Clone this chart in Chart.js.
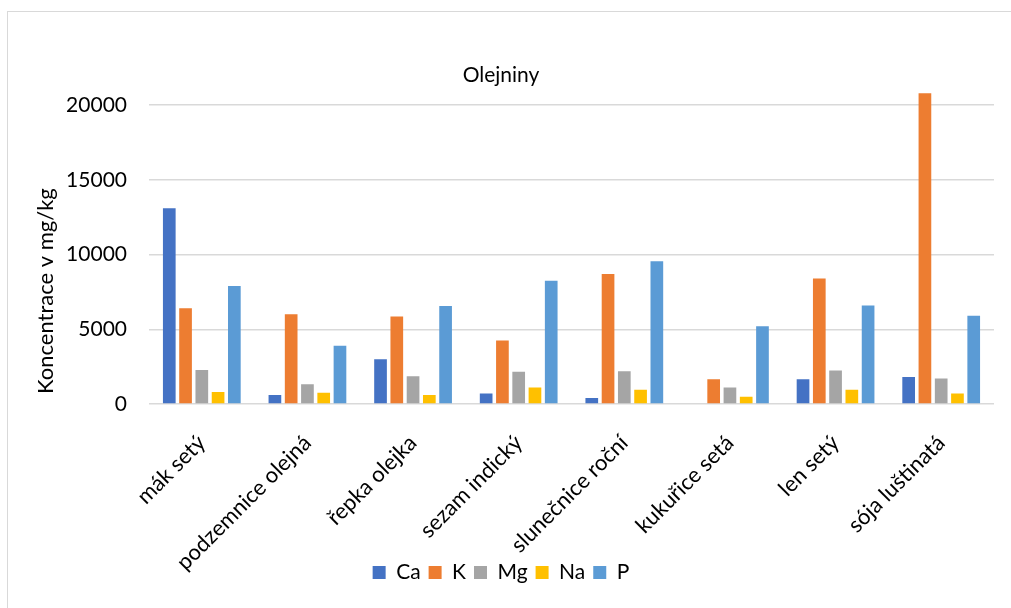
<!DOCTYPE html>
<html>
<head>
<meta charset="utf-8">
<script src="https://cdn.jsdelivr.net/npm/chart.js@4"></script>
<style>
    html, body { margin: 0; padding: 0; background: #fff; overflow: hidden; }
    #box {
        position: absolute; left: 7px; top: 11px;
        width: 1032px; height: 600px;
        border-left: 1px solid #d9d9d9;
        border-top: 1px solid #d9d9d9;
    }
</style>
</head>
<body>
<div id="box"><canvas id="barChart" width="1032" height="597"></canvas></div>
<script>
const $ = id => document.getElementById(id);

// plodiny
const categories = ['mák setý', 'podzemnice olejná', 'řepka olejka', 'sezam indický',
    'slunečnice roční', 'kukuřice setá', 'len setý', 'sója luštinatá'];
// koncentrace v mg/kg
const ca = [13100, 600, 3000, 700, 400, 50, 1650, 1800];
const k = [6400, 6000, 5850, 4250, 8700, 1650, 8400, 20800];
const mg = [2270, 1330, 1850, 2150, 2200, 1100, 2250, 1700];
const na = [800, 750, 600, 1100, 950, 480, 950, 700];
const p = [7900, 3900, 6550, 8250, 9550, 5200, 6600, 5900];
const yTicks = [0, 5000, 10000, 15000, 20000];

const font = 'Lato, "Open Sans", sans-serif';

// popisek osy y
const yTitle = {
    id: 'yTitle',
    afterLayout(chart) {
        // popisky osy x smi prekryvat oblast legendy (jinak se orezou)
        chart.scales.x.bottom = chart.height;
    },
    afterDraw(chart) {
        const {ctx, chartArea} = chart;
        ctx.save();
        ctx.translate(38, (chartArea.top + chartArea.bottom) / 2 + 44);
        ctx.rotate(-Math.PI / 2);
        ctx.font = `22px ${font}`;
        ctx.fillStyle = '#000';
        ctx.textAlign = 'center';
        ctx.textBaseline = 'middle';
        ctx.fillText('Koncentrace v mg/kg', 0, 0);
        ctx.restore();
    }
};

const mkSet = (label, data, color) => ({
    label, data, backgroundColor: color, borderWidth: 0,
    categoryPercentage: 0.77, barPercentage: 0.78
});

window.onload = () => {
    new Chart($('barChart').getContext('2d'), {
        type: 'bar',
        data: {
            labels: categories,
            datasets: [
                mkSet('Ca', ca, '#4472C4'),
                mkSet('K', k, '#ED7D31'),
                mkSet('Mg', mg, '#A5A5A5'),
                mkSet('Na', na, '#FFC000'),
                mkSet('P', p, '#5B9BD5')
            ]
        },
        options: {
            responsive: false,
            animation: false,
            layout: { padding: { left: 0, right: 46, top: 0, bottom: 16 } },
            plugins: {
                title: {
                    display: true, text: 'Olejniny', color: '#000',
                    font: { family: font, size: 21, weight: 'normal' },
                    padding: { top: 51, bottom: 2 }
                },
                legend: {
                    position: 'bottom',
                    labels: {
                        color: '#000', boxWidth: 13, boxHeight: 13, padding: 8,
                        font: { family: font, size: 21 }
                    }
                },
                tooltip: { enabled: false }
            },
            scales: {
                x: {
                    grid: { display: false },
                    border: { display: false },
                    ticks: {
                        color: '#000', autoSkip: false, maxRotation: 45, minRotation: 45,
                        padding: 18, font: { family: font, size: 22 }
                    },
                    afterFit: s => { s.height = 150; }
                },
                y: {
                    min: 0, max: 21000,
                    border: { display: false },
                    grid: { color: '#d9d9d9', lineWidth: 1.5, drawTicks: false },
                    ticks: {
                        color: '#000', padding: 22, font: { family: font, size: 21 },
                        callback: v => String(v)
                    },
                    afterBuildTicks: s => { s.ticks = yTicks.map(v => ({ value: v })); },
                    afterFit: s => { s.width = 141; }
                }
            }
        },
        plugins: [yTitle]
    });
}
</script>
</body>
</html>
